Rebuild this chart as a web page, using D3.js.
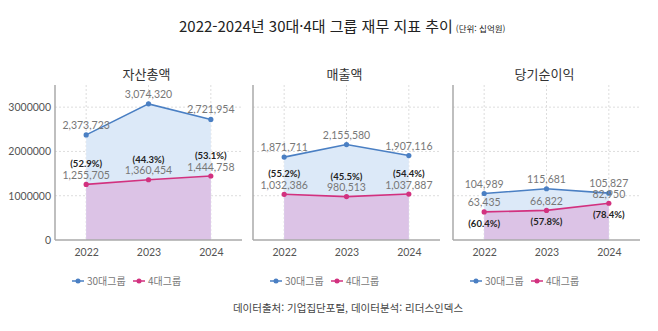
<!DOCTYPE html>
<html lang="ko">
<head>
<meta charset="UTF-8">
<title>2022-2024년 30대·4대 그룹 재무 지표 추이</title>
<script src="https://d3js.org/d3.v7.min.js"></script>
<style>
  body { margin: 0; background: #fff; }
  text { font-family: Lato, "Noto Sans CJK KR", sans-serif; }
</style>
</head>
<body>
<svg id="chart" width="658" height="331"></svg>
<script>
// 데이터 (단위: 십억원)
const years = ["2022", "2023", "2024"];
const panelTitles = ["자산총액", "매출액", "당기순이익"];
const top30 = [
  [2373723, 3074320, 2721954],
  [1871711, 2155580, 1907116],
  [104989, 115681, 105827]
];
const top4 = [
  [1255705, 1360454, 1444758],
  [1032386, 980513, 1037887],
  [63435, 66822, 82950]
];
const shares = [
  ["52.9%", "44.3%", "53.1%"],
  ["55.2%", "45.5%", "54.4%"],
  ["60.4%", "57.8%", "78.4%"]
];
const yMax = [3500000, 3500000, 350000];
const yTicks = [
  [0, 1000000, 2000000, 3000000],
  [0, 1000000, 2000000, 3000000],
  [0, 100000, 200000, 300000]
];
const seriesNames = ["30대그룹", "4대그룹"];

const blue = "#4a7fc3", blueFill = "#dce9f8";
const pink = "#d2317f", pinkFill = "#dcc3e6";

const svg = d3.select("#chart");

// 제목
const title = svg.append("text")
  .attr("x", 179).attr("y", 32)
  .attr("font-size", 15).attr("fill", "#222")
  .style("font-family", "'Noto Sans CJK KR', sans-serif");
title.append("tspan").text("2022-2024년 30대·4대 그룹 재무 지표 추이");
title.append("tspan").attr("font-size", 8.5).attr("dx", 3).text("(단위: 십억원)");

const lefts = [55, 253, 453];
const plotW = 187, plotTop = 85, plotBottom = 240;
const fmt = d3.format(",");

panelTitles.forEach((name, p) => {
  const g = svg.append("g");
  const x = d3.scalePoint().domain(years).range([lefts[p], lefts[p] + plotW]).padding(0.5);
  const y = d3.scaleLinear().domain([0, yMax[p]]).range([plotBottom, plotTop]);

  // 격자
  g.selectAll(".hg").data(yTicks[p].slice(1)).enter().append("line")
    .attr("x1", lefts[p]).attr("x2", lefts[p] + plotW)
    .attr("y1", d => y(d)).attr("y2", d => y(d))
    .attr("stroke", "#ddd").attr("stroke-dasharray", "2,2");
  g.selectAll(".vg").data(years).enter().append("line")
    .attr("x1", d => x(d)).attr("x2", d => x(d))
    .attr("y1", plotTop).attr("y2", plotBottom)
    .attr("stroke", "#ddd").attr("stroke-dasharray", "2,2");

  // 영역
  const area = d3.area().x((d, i) => x(years[i])).y0(plotBottom).y1(d => y(d));
  const line = d3.line().x((d, i) => x(years[i])).y(d => y(d));
  g.append("path").attr("d", area(top30[p])).attr("fill", blueFill);
  g.append("path").attr("d", area(top4[p])).attr("fill", pinkFill);
  g.append("path").attr("d", line(top30[p])).attr("fill", "none").attr("stroke", blue).attr("stroke-width", 1.6);
  g.append("path").attr("d", line(top4[p])).attr("fill", "none").attr("stroke", pink).attr("stroke-width", 1.6);
  g.selectAll(".b").data(top30[p]).enter().append("circle")
    .attr("cx", (d, i) => x(years[i])).attr("cy", d => y(d)).attr("r", 2.6).attr("fill", blue);
  g.selectAll(".k").data(top4[p]).enter().append("circle")
    .attr("cx", (d, i) => x(years[i])).attr("cy", d => y(d)).attr("r", 2.6).attr("fill", pink);

  // 축
  const yAxis = d3.axisLeft(y).tickValues(yTicks[p]).tickSize(0).tickPadding(4)
    .tickFormat(p === 0 ? d3.format("d") : "");
  const ya = g.append("g").attr("transform", `translate(${lefts[p]},0)`).call(yAxis);
  const xAxis = d3.axisBottom(x).tickSize(0).tickPadding(9);
  const xa = g.append("g").attr("transform", `translate(0,${plotBottom})`).call(xAxis);
  [ya, xa].forEach(a => {
    a.select(".domain").attr("stroke", "#aaa").attr("stroke-width", 1.5);
    a.selectAll("text").attr("fill", "#555").attr("font-size", 10.5)
      .style("font-family", "Lato, sans-serif");
  });
  xa.select(".domain").attr("d", `M${lefts[p]},0H${lefts[p] + plotW}`);
  ya.select(".domain").attr("d", `M0,${plotTop}V${plotBottom}`);

  // 값 라벨
  g.selectAll(".bl").data(top30[p]).enter().append("text")
    .attr("x", (d, i) => x(years[i])).attr("y", d => y(d) - 6)
    .attr("text-anchor", "middle").attr("font-size", 10.5).attr("fill", "#777")
    .text(d => fmt(d));
  g.selectAll(".kl").data(top4[p]).enter().append("text")
    .attr("x", (d, i) => x(years[i])).attr("y", d => y(d) - 5.5)
    .attr("text-anchor", "middle").attr("font-size", 10.5).attr("fill", "#777")
    .text(d => fmt(d));
  g.selectAll(".pl").data(shares[p]).enter().append("text")
    .attr("x", (d, i) => x(years[i]))
    .attr("y", (d, i) => p === 2 ? y(top4[p][i]) + 15 : y(top4[p][i]) - 17)
    .attr("text-anchor", "middle").attr("font-size", 9.5).attr("font-weight", "bold").attr("fill", "#222")
    .text(d => `(${d})`);

  // 패널 제목
  g.append("text")
    .attr("x", lefts[p] + plotW / 2 - 2).attr("y", 79)
    .attr("text-anchor", "middle").attr("font-size", 13).attr("fill", "#333")
    .style("font-family", "'Noto Sans CJK KR', sans-serif")
    .text(name);

  // 범례
  const lg = g.append("g").attr("transform", `translate(${lefts[p] + 17},281)`);
  [blue, pink].forEach((c, i) => {
    const off = i * 61;
    lg.append("line").attr("x1", off).attr("x2", off + 12).attr("y1", 0).attr("y2", 0)
      .attr("stroke", c).attr("stroke-width", 1.5);
    lg.append("circle").attr("cx", off + 6).attr("cy", 0).attr("r", 2.5).attr("fill", c);
    lg.append("text").attr("x", off + 15).attr("y", 3.5)
      .attr("font-size", 10).attr("fill", "#777")
      .style("font-family", "'Noto Sans CJK KR', sans-serif")
      .text(seriesNames[i]);
  });
});

// 출처
svg.append("text")
  .attr("x", 348).attr("y", 312)
  .attr("text-anchor", "middle").attr("font-size", 10.5).attr("fill", "#444")
  .style("font-family", "'Noto Sans CJK KR', sans-serif")
  .text("데이터출처: 기업집단포털, 데이터분석: 리더스인덱스");
</script>
</body>
</html>
